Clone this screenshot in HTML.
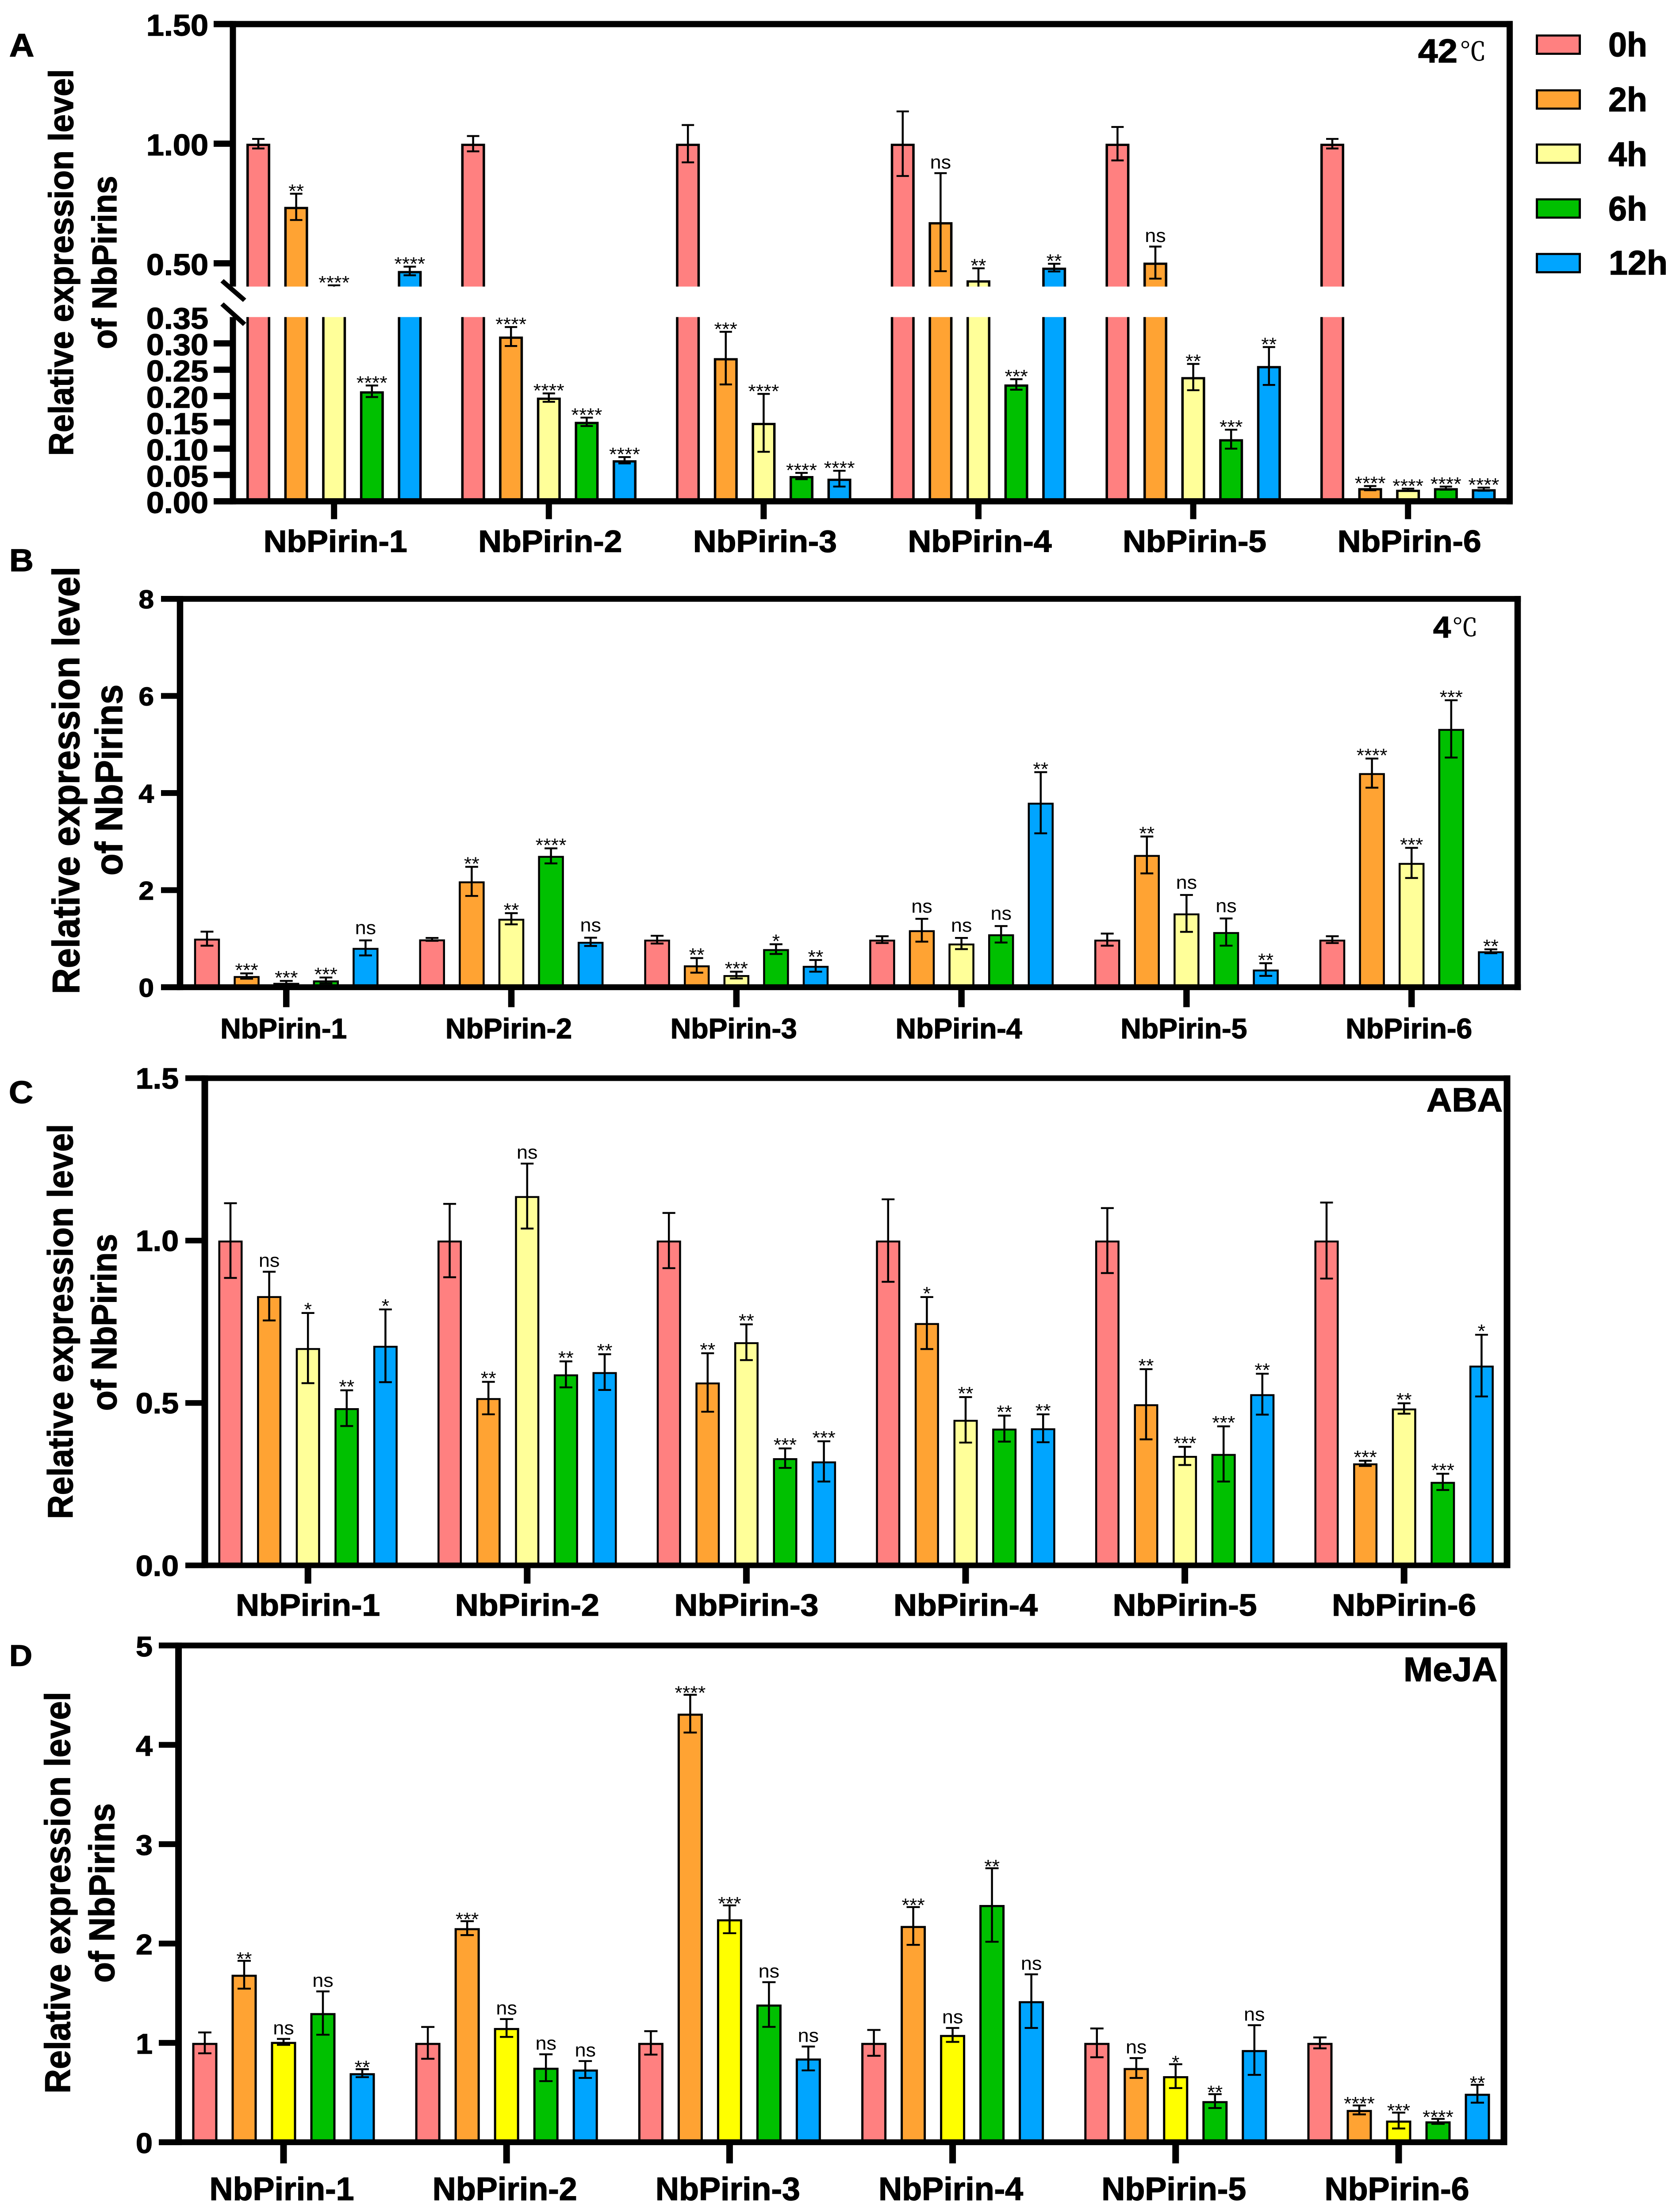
<!DOCTYPE html>
<html lang="en">
<head>
<meta charset="utf-8">
<title>NbPirins relative expression</title>
<style>
html,body{margin:0;padding:0;background:#fff;width:100%;height:100%;overflow:hidden}
svg{display:block;position:absolute;left:0;top:0;width:100vw;height:100vh}
text{font-family:"Liberation Sans","Noto Sans CJK SC",sans-serif;fill:#000}
.b{font-weight:700;stroke:#000;stroke-width:1.5px}
.cel{font-family:"Noto Serif CJK SC","Liberation Serif",serif;font-weight:400;stroke:#000;stroke-width:1px}
</style>
</head>
<body>
<svg id="chart" xmlns="http://www.w3.org/2000/svg" viewBox="0 0 3789 5326" preserveAspectRatio="none">
<rect x="0" y="0" width="3789" height="5326" fill="#fff"/>
<g id="marks"></g>

<text class="b" x="21" y="136" font-size="78">A</text>
<text class="b" x="21" y="1375" font-size="76">B</text>
<text class="b" x="20" y="2656" font-size="76">C</text>
<text class="b" x="21" y="4011" font-size="72">D</text>

<text class="b" transform="translate(165,632) rotate(-90)" text-anchor="middle" font-size="78" textLength="931" lengthAdjust="spacingAndGlyphs">Relative expression level</text>
<text class="b" transform="translate(263,632) rotate(-90)" text-anchor="middle" font-size="78" textLength="417" lengthAdjust="spacingAndGlyphs">of NbPirins</text>
<text class="b" transform="translate(179,1879) rotate(-90)" text-anchor="middle" font-size="86" textLength="1029" lengthAdjust="spacingAndGlyphs">Relative expression level</text>
<text class="b" transform="translate(276,1878) rotate(-90)" text-anchor="middle" font-size="86" textLength="460" lengthAdjust="spacingAndGlyphs">of NbPirins</text>
<text class="b" transform="translate(164,3182) rotate(-90)" text-anchor="middle" font-size="80" textLength="951" lengthAdjust="spacingAndGlyphs">Relative expression level</text>
<text class="b" transform="translate(263,3184) rotate(-90)" text-anchor="middle" font-size="80" textLength="426" lengthAdjust="spacingAndGlyphs">of NbPirins</text>
<text class="b" transform="translate(158,4557) rotate(-90)" text-anchor="middle" font-size="81" textLength="967" lengthAdjust="spacingAndGlyphs">Relative expression level</text>
<text class="b" transform="translate(258,4558) rotate(-90)" text-anchor="middle" font-size="81" textLength="432" lengthAdjust="spacingAndGlyphs">of NbPirins</text>

<text class="b" x="3206" y="150" font-size="80">42</text>
<text class="cel" x="3300" y="145" font-size="60">℃</text>
<text class="b" x="3240" y="1535" font-size="72">4</text>
<text class="cel" x="3283" y="1531" font-size="58">℃</text>
<text class="b" x="3225" y="2676" font-size="80" textLength="172" lengthAdjust="spacingAndGlyphs">ABA</text>
<text class="b" x="3173" y="4048" font-size="82" textLength="212" lengthAdjust="spacingAndGlyphs">MeJA</text>

<g>
<rect x="3474.5" y="85.5" width="97" height="44" fill="#FF8080" stroke="#000" stroke-width="5"/>
<rect x="3474.5" y="217.5" width="97" height="44" fill="#FFA333" stroke="#000" stroke-width="5"/>
<rect x="3474.5" y="348" width="97" height="44" fill="#FFFF99" stroke="#000" stroke-width="5"/>
<rect x="3474.5" y="480" width="97" height="44" fill="#00C000" stroke="#000" stroke-width="5"/>
<rect x="3474.5" y="611.5" width="97" height="44" fill="#00A5FF" stroke="#000" stroke-width="5"/>
<text class="b" x="3636" y="136" font-size="82" textLength="88" lengthAdjust="spacingAndGlyphs">0h</text>
<text class="b" x="3636" y="268" font-size="82" textLength="88" lengthAdjust="spacingAndGlyphs">2h</text>
<text class="b" x="3636" y="400" font-size="82" textLength="88" lengthAdjust="spacingAndGlyphs">4h</text>
<text class="b" x="3636" y="531" font-size="82" textLength="88" lengthAdjust="spacingAndGlyphs">6h</text>
<text class="b" x="3637" y="661" font-size="82" textLength="133" lengthAdjust="spacingAndGlyphs">12h</text>
</g>
</svg>

<script>
const categories = ['NbPirin-1', 'NbPirin-2', 'NbPirin-3', 'NbPirin-4', 'NbPirin-5', 'NbPirin-6'];
const seriesNames = ['0h', '2h', '4h', '6h', '12h'];

const heatTickValues = [0, 0.05, 0.10, 0.15, 0.20, 0.25, 0.30, 0.35, 0.50, 1.00, 1.50];
const heatTickLabels = ['0.00', '0.05', '0.10', '0.15', '0.20', '0.25', '0.30', '0.35', '0.50', '1.00', '1.50'];
const heatMeans = [
  [1.00, 0.736, 0.40, 0.209, 0.468],
  [1.00, 0.313, 0.197, 0.151, 0.078],
  [1.00, 0.272, 0.149, 0.048, 0.043],
  [1.00, 0.672, 0.429, 0.222, 0.482],
  [1.00, 0.503, 0.236, 0.118, 0.257],
  [1.00, 0.025, 0.022, 0.025, 0.023]
];
const heatErrors = [
  [0.02, 0.055, 0.008, 0.011, 0.018],
  [0.032, 0.018, 0.008, 0.008, 0.006],
  [0.078, 0.05, 0.055, 0.006, 0.015],
  [0.135, 0.205, 0.05, 0.01, 0.016],
  [0.07, 0.067, 0.025, 0.018, 0.036],
  [0.02, 0.004, 0.002, 0.003, 0.003]
];
const heatSig = [
  ['', '**', '****', '****', '****'],
  ['', '****', '****', '****', '****'],
  ['', '***', '****', '****', '****'],
  ['', 'ns', '**', '***', '**'],
  ['', 'ns', '**', '***', '**'],
  ['', '****', '****', '****', '****']
];

const coldTickValues = [0, 2, 4, 6, 8];
const coldTickLabels = ['0', '2', '4', '6', '8'];
const coldMeans = [
  [1.00, 0.23, 0.09, 0.14, 0.81],
  [0.985, 2.18, 1.41, 2.705, 0.935],
  [0.98, 0.45, 0.25, 0.785, 0.44],
  [0.98, 1.174, 0.90, 1.09, 3.80],
  [0.98, 2.724, 1.52, 1.136, 0.364],
  [0.98, 4.41, 2.56, 5.32, 0.74]
];
const coldErrors = [
  [0.145, 0.055, 0.04, 0.06, 0.155],
  [0.03, 0.30, 0.115, 0.155, 0.085],
  [0.08, 0.15, 0.07, 0.10, 0.12],
  [0.07, 0.235, 0.115, 0.17, 0.63],
  [0.125, 0.38, 0.38, 0.28, 0.13],
  [0.07, 0.30, 0.31, 0.59, 0.04]
];
const coldSig = [
  ['', '***', '***', '***', 'ns'],
  ['', '**', '**', '****', 'ns'],
  ['', '**', '***', '*', '**'],
  ['', 'ns', 'ns', 'ns', '**'],
  ['', '**', 'ns', 'ns', '**'],
  ['', '****', '***', '***', '**']
];

const abaTickValues = [0, 0.5, 1.0, 1.5];
const abaTickLabels = ['0.0', '0.5', '1.0', '1.5'];
const abaMeans = [
  [1.00, 0.829, 0.669, 0.484, 0.676],
  [1.00, 0.515, 1.137, 0.588, 0.595],
  [1.00, 0.563, 0.687, 0.33, 0.32],
  [1.00, 0.746, 0.448, 0.421, 0.422],
  [1.00, 0.496, 0.337, 0.343, 0.527],
  [1.00, 0.314, 0.483, 0.257, 0.615]
];
const abaErrors = [
  [0.115, 0.075, 0.108, 0.055, 0.112],
  [0.113, 0.05, 0.10, 0.04, 0.055],
  [0.085, 0.09, 0.055, 0.03, 0.062],
  [0.127, 0.08, 0.07, 0.04, 0.043],
  [0.10, 0.108, 0.028, 0.085, 0.063],
  [0.117, 0.008, 0.016, 0.025, 0.095]
];
const abaSig = [
  ['', 'ns', '*', '**', '*'],
  ['', '**', 'ns', '**', '**'],
  ['', '**', '**', '***', '***'],
  ['', '*', '**', '**', '**'],
  ['', '**', '***', '***', '**'],
  ['', '***', '**', '***', '*']
];

const mejaTickValues = [0, 1, 2, 3, 4, 5];
const mejaTickLabels = ['0', '1', '2', '3', '4', '5'];
const mejaMeans = [
  [1.00, 1.686, 1.01, 1.30, 0.695],
  [1.00, 2.155, 1.15, 0.75, 0.732],
  [1.00, 4.314, 2.244, 1.386, 0.843],
  [1.00, 2.177, 1.08, 2.388, 1.42],
  [1.00, 0.747, 0.665, 0.414, 0.928],
  [1.00, 0.325, 0.218, 0.21, 0.488]
];
const mejaErrors = [
  [0.105, 0.14, 0.03, 0.218, 0.04],
  [0.16, 0.07, 0.09, 0.135, 0.085],
  [0.118, 0.19, 0.14, 0.225, 0.12],
  [0.13, 0.19, 0.07, 0.37, 0.27],
  [0.145, 0.10, 0.12, 0.07, 0.25],
  [0.055, 0.045, 0.08, 0.025, 0.09]
];
const mejaSig = [
  ['', '**', 'ns', 'ns', '**'],
  ['', '***', 'ns', 'ns', 'ns'],
  ['', '****', '***', 'ns', 'ns'],
  ['', '***', 'ns', '**', 'ns'],
  ['', 'ns', '*', '**', 'ns'],
  ['', '****', '***', '****', '**']
];

const barColors = ['#FF8080', '#FFA333', '#FFFF99', '#00C000', '#00A5FF'];
const barColorsMeja = ['#FF8080', '#FFA333', '#FFFF00', '#00C000', '#00A5FF'];

/* Axis function for the broken axis of panel A (lower 0-0.35, upper 0.403-1.5) */
function heatY(v) {
  if (v <= 0.35) return 1207 - v * 1267.4;
  if (v >= 0.403) return 346 - (v - 1) * 576;
  return 763.4 - (v - 0.35) / 0.053 * 73.7;
}
function linearY(base, perUnit) {
  return function (v) { return base - v * perUnit; };
}

const panels = [
  { key: 'a', means: heatMeans, errors: heatErrors, sig: heatSig, tickV: heatTickValues, tickL: heatTickLabels, colors: barColors,
    y: heatY, top: 58, base: 1207, left: 526.5, right: 3413, tickLeft: 483, frame: 15, axisW: 14,
    x0: 584, groupStep: 485.6, barStep: 85.6, barW: 48.5, stroke: 5.5, errW: 4.5, capW: 28, tickLen: 43,
    tickFont: 72, tickAnchor: 471, tickDy: 28, catFont: 74, catLen: 325, catBase: 1329, catOff: 3,
    starDy: 9, nsDy: -11, hideTick: 0.35, gap: [690, 763.4] },
  { key: 'b', means: coldMeans, errors: coldErrors, sig: coldSig, tickV: coldTickValues, tickL: coldTickLabels, colors: barColors,
    y: linearY(2377, 116.9), top: 1442, base: 2377, left: 407, right: 3431, tickLeft: 364, frame: 14, axisW: 14.5,
    x0: 468, groupStep: 508.8, barStep: 89.6, barW: 54, stroke: 4.5, errW: 4.5, capW: 29, tickLen: 48,
    tickFont: 62, tickAnchor: 348, tickDy: 23, catFont: 68, catLen: 286, catBase: 2500, catOff: -6,
    starDy: 8, nsDy: -15 },
  { key: 'c', means: abaMeans, errors: abaErrors, sig: abaSig, tickV: abaTickValues, tickL: abaTickLabels, colors: barColors,
    y: linearY(3769, 782), top: 2596, base: 3769, left: 463, right: 3407, tickLeft: 419, frame: 13.5, axisW: 15,
    x0: 521, groupStep: 495.6, barStep: 87.6, barW: 50.5, stroke: 4.5, errW: 4.5, capW: 29, tickLen: 44,
    tickFont: 70, tickAnchor: 404, tickDy: 25, catFont: 74, catLen: 326, catBase: 3890, catOff: 0,
    starDy: 7, nsDy: -12 },
  { key: 'd', means: mejaMeans, errors: mejaErrors, sig: mejaSig, tickV: mejaTickValues, tickL: mejaTickLabels, colors: barColorsMeja,
    y: linearY(5158, 239.2), top: 3962, base: 5158, left: 403.6, right: 3400, tickLeft: 359, frame: 14, axisW: 15,
    x0: 463, groupStep: 504.2, barStep: 89, barW: 52, stroke: 5, errW: 4.5, capW: 30, tickLen: 51,
    tickFont: 68, tickAnchor: 345, tickDy: 26, catFont: 78, catLen: 327, catBase: 5297, catOff: -4,
    starDy: 11, nsDy: -11 }
];

const SVGNS = 'http://www.w3.org/2000/svg';
const root = document.getElementById('marks');

function make(tag, attrs, parent) {
  const node = document.createElementNS(SVGNS, tag);
  for (const k in attrs) node.setAttribute(k, attrs[k]);
  parent.appendChild(node);
  return node;
}

function drawPanel(p) {
  const panel = make('g', {}, root);
  
  

  /* bars and error bars */
  p.means.forEach(function (group, g) {
    group.forEach(function (value, s) {
      const cx = p.x0 + g * p.groupStep + s * p.barStep;
      const yTop = p.y(value);
      const bar = make('rect', {
        x: cx - p.barW / 2, y: yTop + p.stroke / 2,
        width: p.barW, height: Math.max(0, p.base - yTop - p.stroke / 2),
        fill: p.colors[s], stroke: '#000', 'stroke-width': p.stroke
      }, panel);
      
      

      const e = p.errors[g][s];
      const yHi = p.y(value + e);
      const yLo = p.y(value - e);
      const err = make('path', {
        d: 'M' + cx + ' ' + yHi + 'V' + yLo +
           'M' + (cx - p.capW / 2) + ' ' + yHi + 'H' + (cx + p.capW / 2) +
           'M' + (cx - p.capW / 2) + ' ' + yLo + 'H' + (cx + p.capW / 2),
        fill: 'none', stroke: '#000', 'stroke-width': p.errW
      }, panel);
      
      
    });
  });

  /* axis frame */
  const frame = make('path', {
    d: 'M' + p.tickLeft + ' ' + p.top + 'H' + (p.right + p.axisW / 2) +
       'M' + p.tickLeft + ' ' + p.base + 'H' + (p.right + p.axisW / 2),
    fill: 'none', stroke: '#000', 'stroke-width': p.frame
  }, panel);
  
  

  const sides = make('path', {
    d: 'M' + p.left + ' ' + (p.top - p.frame / 2) + 'V' + (p.base + p.frame / 2) +
       'M' + p.right + ' ' + (p.top - p.frame / 2) + 'V' + (p.base + p.frame / 2),
    fill: 'none', stroke: '#000', 'stroke-width': p.axisW
  }, panel);
  
  

  /* y ticks */
  p.tickV.forEach(function (v, i) {
    const yy = p.y(v);
    if (v !== p.hideTick) {
      const tick = make('line', {
        x1: p.tickLeft, x2: p.left, y1: yy, y2: yy, stroke: '#000', 'stroke-width': p.frame
      }, panel);
      
      
    }
  });

  /* axis break (panel A) */
  if (p.gap) {
    const blank = make('rect', {
      x: p.left - 10, y: p.gap[0], width: p.right - p.left - 2, height: p.gap[1] - p.gap[0], fill: '#fff'
    }, panel);
    
    

    const slashes = make('path', {
      d: 'M502 676L553 723M502 732L553 781', fill: 'none', stroke: '#000', 'stroke-width': 11
    }, panel);
    
    
  }

  /* y tick labels */
  p.tickL.forEach(function (label, i) {
    const t = make('text', {
      x: p.tickAnchor, y: p.y(p.tickV[i]) + p.tickDy, 'text-anchor': 'end', 'font-size': p.tickFont, class: 'b'
    }, panel);
    t.textContent = label;
    
    
  });

  /* category ticks and labels, significance labels */
  categories.forEach(function (name, g) {
    const centre = p.x0 + g * p.groupStep + 2 * p.barStep;
    const ct = make('line', {
      x1: centre, x2: centre, y1: p.base, y2: p.base + p.tickLen, stroke: '#000', 'stroke-width': p.axisW
    }, panel);
    
    

    const lab = make('text', {
      x: centre + p.catOff, y: p.catBase, 'text-anchor': 'middle', 'font-size': p.catFont, class: 'b',
      textLength: p.catLen, lengthAdjust: 'spacingAndGlyphs'
    }, panel);
    lab.textContent = name;
    
    

    p.sig[g].forEach(function (mark, s) {
      if (!mark) return;
      const cx = p.x0 + g * p.groupStep + s * p.barStep;
      const errTop = p.y(p.means[g][s] + p.errors[g][s]);
      const offset = mark === 'ns' ? p.nsDy : p.starDy;
      const st = make('text', {
        x: cx, y: errTop + offset, 'text-anchor': 'middle', 'font-size': 45
      }, panel);
      st.textContent = mark;
      
      
    });
  });
}

panels.forEach(drawPanel);
</script>
</body>
</html>
